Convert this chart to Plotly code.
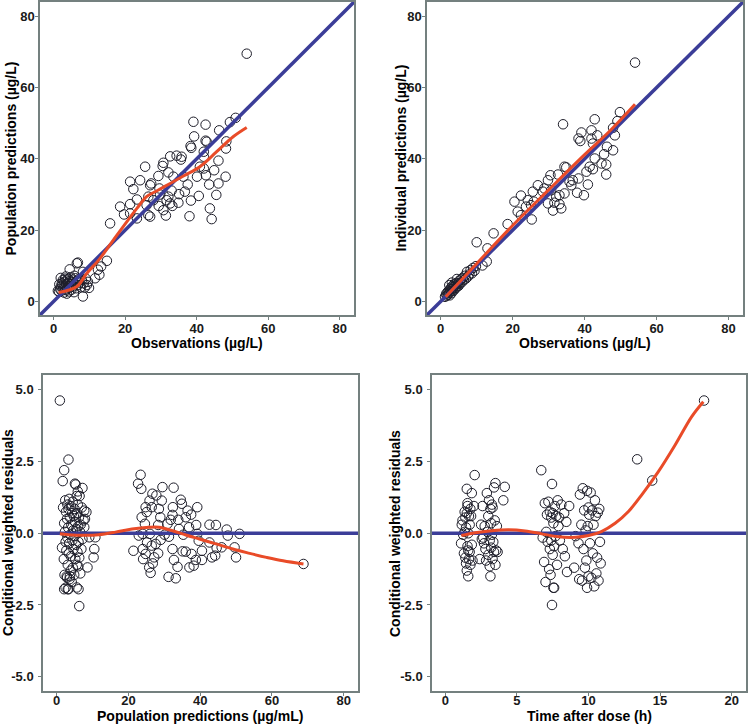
import plotly.graph_objects as go

# ---------------- data ----------------
# Panel A: Observations vs population predictions
obs_a = [1.5, 1.8, 2.0, 2.2, 2.3, 2.5, 2.6, 2.7, 2.9, 3.0, 3.1, 3.2, 3.3, 3.5, 3.6, 3.7, 3.8, 4.0, 4.1, 4.2,
         4.3, 4.5, 4.6, 4.7, 4.9, 5.0, 5.2, 5.4, 5.5, 5.7, 5.9, 6.1, 6.3, 6.5, 6.8, 7.0, 7.3, 7.6, 7.9, 8.2,
         8.4, 8.7, 9.0, 9.3, 9.6, 9.9, 2.0, 1.6, 3.4, 5.8, 1.2, 4.5, 6.5, 6.8, 8.2,
         15.8, 14.9, 13.3, 12.4, 12.8, 11.6,
         54.0, 50.9, 49.3, 39.1, 42.5, 39.3, 46.3, 42.5, 42.8, 38.3, 38.5, 48.3, 48.2, 42.0, 42.0, 46.1,
         40.9, 42.0, 44.9, 40.1, 42.6, 48.1, 43.5, 46.1, 45.5, 40.6, 38.4, 43.7, 44.2, 38.0,
         32.6, 34.4, 35.8, 30.7, 30.5, 29.3, 32.1, 33.5, 35.6, 36.3, 37.5, 36.7, 35.1, 34.9, 33.0, 32.1,
         31.6, 32.6, 33.2, 30.7, 31.4, 29.6, 29.8, 29.4, 25.6, 21.4, 24.2, 27.3, 27.0, 22.3, 23.3, 21.4,
         18.6, 19.7, 21.4, 23.3, 26.0, 26.5, 27.0, 26.5, 27.9]
pred_a = [2.8, 3.5, 4.2, 3.0, 5.1, 4.5, 6.0, 3.8, 2.5, 5.5, 4.0, 6.4, 3.2, 4.8, 5.9, 2.2, 3.6, 5.2, 6.3, 4.4,
          2.8, 5.7, 3.9, 6.8, 4.9, 3.3, 5.5, 6.1, 4.2, 2.6, 5.0, 6.5, 3.7, 5.8, 4.6, 6.2, 5.3, 4.0, 6.0, 8.3,
          5.1, 3.9, 6.4, 4.6, 5.5, 3.8, 6.6, 4.8, 7.0, 7.2, 3.0, 9.0, 10.7, 10.9, 1.4,
          21.9, 11.4, 9.8, 8.9, 7.5, 6.5,
          69.5, 51.5, 50.3, 50.4, 49.6, 46.3, 48.0, 45.1, 44.8, 43.6, 43.1, 44.9, 42.9, 42.0, 40.6, 39.5,
          37.8, 37.3, 36.8, 35.0, 35.4, 35.0, 32.8, 33.1, 29.9, 29.6, 28.3, 26.1, 23.1, 23.9,
          40.7, 40.9, 40.6, 38.9, 38.0, 35.2, 36.2, 35.0, 39.8, 35.0, 32.8, 30.8, 30.1, 27.7, 31.1, 29.4,
          28.4, 27.5, 26.8, 25.6, 24.1, 31.7, 30.0, 26.8, 37.8, 33.6, 34.0, 33.1, 32.6, 31.5, 28.6, 27.3,
          26.6, 24.4, 24.7, 23.3, 27.0, 24.2, 23.8, 29.4, 28.4]
smooth_a_x = [1.4, 6.5, 9.3, 13.0, 16.7, 20.5, 23.3, 26.0, 28.8, 32.6, 36.3, 40.9, 45.6, 50.2, 54.0]
smooth_a_y = [2.5, 4.2, 7.9, 12.1, 17.2, 22.4, 26.1, 29.4, 31.0, 33.1, 35.2, 37.8, 42.0, 46.2, 48.8]

# Panel B: Observations vs individual predictions
obs_b = [1.2, 1.5, 1.7, 1.9, 2.0, 2.2, 2.3, 2.5, 2.6, 2.8, 2.9, 3.0, 3.2, 3.3, 3.5, 3.6, 3.8, 3.9, 4.1, 4.2,
         4.4, 4.6, 4.8, 5.0, 5.2, 5.4, 5.6, 5.9, 6.1, 6.4, 6.7, 7.0, 7.3, 7.6, 8.0, 8.3, 8.7, 9.0, 9.4, 2.4,
         3.1, 4.5, 9.8,
         54.0, 34.0, 49.8, 42.8, 41.9, 39.1, 38.3, 38.8, 41.9, 43.5, 42.3, 49.1, 47.9, 48.4, 46.2, 47.9,
         45.4, 44.7, 46.0, 46.0, 42.8, 41.4, 42.3, 40.5, 40.9, 39.8, 37.9, 38.3, 36.7, 34.4, 34.9, 32.6,
         30.5, 29.8, 27.0, 28.8, 30.7, 35.8, 36.3, 33.0, 34.4, 32.1, 31.6, 33.0, 31.2, 33.5, 29.8, 28.4,
         25.6, 22.3, 20.5, 24.2, 25.9, 25.1, 23.7, 21.4, 22.3, 25.3, 18.6, 14.7, 10.0, 13.0, 12.8, 11.6]
pred_b = [1.3, 2.1, 1.6, 2.6, 1.9, 3.0, 2.4, 1.7, 3.4, 2.8, 3.9, 2.3, 3.5, 4.4, 3.0, 4.0, 4.8, 3.4, 4.5, 3.8,
          5.2, 4.2, 5.0, 4.4, 5.8, 5.1, 6.2, 5.4, 6.6, 6.0, 7.2, 6.4, 8.3, 7.0, 7.6, 8.8, 7.9, 9.4, 8.6, 4.6,
          5.3, 6.3, 9.9,
          67.0, 49.7, 53.1, 51.1, 48.0, 47.4, 45.7, 45.0, 45.7, 46.6, 44.3, 50.6, 48.7, 46.6, 43.4, 42.4,
          41.3, 38.7, 38.4, 35.6, 40.1, 37.8, 37.1, 36.4, 32.8, 29.8, 30.5, 34.5, 34.0, 37.8, 37.6, 35.6,
          35.4, 34.0, 32.6, 31.7, 31.2, 33.6, 32.6, 29.8, 30.3, 29.4, 27.7, 27.3, 25.5, 26.1, 27.5, 30.8,
          30.8, 29.7, 28.0, 28.4, 28.0, 27.0, 26.6, 25.2, 24.2, 23.0, 21.7, 19.1, 16.6, 14.9, 11.2, 10.1]
smooth_b_x = [1.4, 10.0, 20.0, 30.0, 40.0, 47.0, 54.0]
smooth_b_y = [1.3, 10.6, 21.3, 31.3, 41.2, 47.8, 55.3]

# Panel C: population predictions vs CWRES
pred_c = [1.5, 1.8, 2.0, 2.1, 2.2, 2.3, 2.4, 2.5, 2.5, 2.6, 2.7, 2.8, 2.9, 3.0, 3.0, 3.1, 3.2, 3.3, 3.3, 3.4,
          3.5, 3.5, 3.6, 3.7, 3.8, 3.9, 4.0, 4.0, 4.1, 4.2, 4.3, 4.4, 4.5, 4.5, 4.6, 4.7, 4.8, 4.9, 5.0, 5.0,
          5.1, 5.2, 5.3, 5.3, 5.4, 5.5, 5.6, 5.7, 5.8, 5.9, 6.0, 6.0, 6.1, 6.2, 6.3, 6.4, 6.5, 6.6, 6.7, 6.9,
          7.0, 7.2, 7.5, 3.7, 2.9,
          0.9, 3.3, 2.1, 1.7, 5.1, 7.2, 5.9, 5.6, 8.3, 7.7, 7.9, 7.7, 9.1, 10.8, 10.5, 10.3, 8.6, 6.1, 5.6,
          6.3, 2.1, 3.1,
          23.4, 22.7, 23.6, 29.5, 32.6, 26.7, 27.8, 25.9, 29.3, 34.6, 34.9, 24.8, 26.5, 32.4, 39.2, 36.5,
          28.5, 25.1, 37.5, 32.3, 23.7, 28.9, 36.0, 31.8, 33.9, 24.6, 28.3, 38.9, 42.6, 44.4, 30.9, 36.9,
          47.4, 34.1, 22.9, 24.0, 26.0, 30.1, 31.3, 35.3, 39.2, 47.7, 51.0, 39.6, 42.6, 29.0, 27.6, 25.2,
          26.5, 21.4, 24.0, 24.8, 32.3, 35.1, 36.0, 40.5, 44.6, 46.0, 49.6, 44.2, 43.3, 50.0, 28.3, 27.2,
          24.1, 32.7, 37.6, 38.8, 40.5, 26.8, 25.8, 33.7, 37.0, 38.2, 26.2, 31.2, 33.2, 68.8]
cwres_c = [-0.5, 0.9, -0.9, 0.35, -1.45, 0.05, 1.15, -0.3, -1.9, 0.75, -0.6, -1.5, 0.5, -0.15, 1.0, -1.1, 0.2,
           -1.95, 0.85, -0.7, 1.2, -0.35, -1.6, 0.55, -0.05, -1.3, 0.95, -0.8, 0.3, -1.7, 0.7, -0.25, 1.1,
           -1.2, 0.1, -0.55, 0.6, -1.45, 0.85, -0.1, 0.4, -0.9, 1.7, 0.65, -0.4, 0.15, -1.1, 0.7, -0.65, 1.0,
           0.25, -1.15, -0.3, 0.55, -0.85, 1.3, 0.05, -1.4, 0.3, -0.55, 0.9, -0.2, 0.45, -1.5, -1.55,
           4.63, 2.57, 2.2, 1.82, 1.73, 1.58, 1.46, 1.3, 0.74, 0.79, 0.5, 0.21, -0.14, -0.14, -0.55, -0.84,
           -1.19, -1.95, -1.89, -2.54, -1.95, -1.95,
           2.04, 1.73, 1.55, 1.61, 1.59, 1.38, 1.32, 1.14, 1.14, 1.17, 1.03, 0.91, 0.91, 0.91, 0.91, 0.79,
           0.85, 0.74, 0.65, 0.64, 0.56, 0.56, 0.56, 0.47, 0.47, 0.33, 0.29, 0.29, 0.30, 0.29, 0.33, 0.21,
           0.13, 0.15, -0.08, -0.02, -0.02, -0.05, -0.12, -0.05, -0.02, -0.08, -0.02, -0.26, -0.32, -0.23,
           -0.37, -0.32, -0.43, -0.61, -0.55, -0.72, -0.55, -0.63, -0.64, -0.61, -0.51, -0.49, -0.49, -0.78,
           -0.84, -0.84, -0.70, -0.84, -0.90, -0.93, -0.72, -0.93, -0.93, -1.05, -1.19, -1.17, -1.19, -1.13,
           -1.38, -1.52, -1.57, -1.07]
smooth_c_x = [0.9, 3.3, 7.9, 11.7, 16.4, 21.0, 25.7, 28.5, 32.3, 36.0, 39.8, 44.4, 49.1, 53.8, 58.5, 63.1, 68.8]
smooth_c_y = [-0.02, -0.05, -0.07, -0.05, 0.04, 0.15, 0.21, 0.21, 0.09, -0.06, -0.2, -0.37, -0.55, -0.7,
              -0.84, -0.96, -1.07]

# Panel D: time after dose vs CWRES
time_d = [1.1, 1.15, 1.2, 1.25, 1.3, 1.35, 1.4, 1.4, 1.45, 1.45, 1.5, 1.5, 1.5, 1.55, 1.55, 1.6, 1.6, 1.65,
          1.65, 1.7, 1.7, 1.75, 1.8, 1.85, 1.85, 1.9, 2.0, 2.05, 1.55, 1.6, 1.35, 1.75,
          2.4, 2.5, 2.55, 2.6, 2.7, 2.75, 2.8, 2.85, 2.9, 2.95, 3.0, 3.0, 3.05, 3.1, 3.1, 3.15, 3.15, 3.2,
          3.2, 3.25, 3.3, 3.3, 3.35, 3.4, 3.4, 3.45, 3.5, 3.5, 3.55, 3.6, 3.65, 4.05, 4.15, 3.25, 2.65,
          6.7, 6.8, 6.9, 6.95, 7.0, 7.05, 7.1, 7.15, 7.2, 7.25, 7.3, 7.3, 7.35, 7.4, 7.4, 7.45, 7.45, 7.5,
          7.5, 7.55, 7.55, 7.6, 7.6, 7.65, 7.7, 7.75, 7.8, 7.85, 7.9, 8.0, 8.1, 8.2, 8.3, 8.35, 8.45, 8.5,
          8.65, 7.95,
          9.0, 9.1, 9.3, 9.4, 9.5, 9.55, 9.6, 9.65, 9.7, 9.75, 9.8, 9.85, 9.9, 9.9, 9.95, 10.0, 10.05,
          10.1, 10.15, 10.2, 10.25, 10.3, 10.35, 10.4, 10.45, 10.5, 10.55, 10.6, 10.65, 10.7, 10.75, 10.8,
          10.85, 9.35, 10.0,
          13.4, 14.45, 18.07]
cwres_d = [-0.35, 0.3, 0.45, -0.05, -0.7, 0.05, -0.85, 0.55, -1.05, 0.2, 1.55, -1.3, 0.7, 0.95, -0.45, -1.5,
           0.0, 0.6, -0.9, 0.3, -0.65, -1.1, 0.6, 1.4, -0.4, -0.95, 0.95, 2.03, 1.05, -0.6, 0.75, 0.85,
           -0.9, 0.3, -0.2, 0.95, -0.35, 0.25, -0.55, -0.95, 1.4, 0.05, -0.75, 0.6, 1.15, -0.25, -1.15, 0.85,
           -1.5, 0.35, -0.5, 1.0, -0.9, 0.9, -0.3, 1.6, -0.65, 0.45, -1.1, 1.75, -0.6, 0.25, -0.65, 1.15,
           1.62, -0.05, -0.15,
           2.2, -0.15, -1.0, 1.05, -1.7, 0.05, 0.65, -0.3, 1.1, -1.25, 0.75, -0.55, -1.45, 0.55, -0.25, 1.72,
           -2.5, 0.7, -0.75, -1.9, 0.35, -0.45, -1.9, 0.95, -0.1, 0.6, -1.1, 1.15, 0.25, -0.25, 1.0, -0.55,
           0.7, -0.8, 0.4, -1.35, 0.95, 0.55,
           -1.2, -0.1, -0.35, 1.35, 0.3, -1.65, 1.57, -0.55, 0.8, -1.2, 0.1, -0.95, 1.48, -1.9, 0.25, -1.5,
           0.65, -0.35, 1.42, -1.55, 0.8, -0.7, 0.3, -1.85, 1.15, 0.6, -1.4, -0.85, 0.72, -1.65, 0.85, -0.3,
           -1.05, -1.6, 0.9,
           2.58, 1.84, 4.63]
smooth_d_x = [1.12, 2.09, 3.26, 4.42, 5.58, 6.74, 7.9, 9.07, 10.0, 10.9, 11.86, 12.79, 13.72, 14.88, 16.05,
              17.21, 18.02]
smooth_d_y = [-0.08, 0.02, 0.09, 0.12, 0.08, -0.02, -0.12, -0.14, -0.08, 0.06, 0.35, 0.76, 1.34, 2.15, 3.08,
              4.07, 4.59]

conc_ticks = [0, 20, 40, 60, 80]
cwres_ticks = [-5.0, -2.5, 0.0, 2.5, 5.0]
cwres_ticktext = ["-5.0", "-2.5", "0.0", "2.5", "5.0"]
time_ticks = [0, 5, 10, 15, 20]

x_titles = ["Observations (µg/L)", "Observations (µg/L)", "Population predictions (µg/mL)", "Time after dose (h)"]
y_titles = ["Population predictions (µg/L)", "Individual predictions (µg/L)",
            "Conditional weighted residuals", "Conditional weighted residuals"]

# ---------------- styling ----------------
W, H = 750, 725
FONT = "Liberation Sans, Arial, sans-serif"
BLUE = "#3b3d98"
RED = "#e94b28"
FRAME = "#74807f"
MARKER = dict(symbol="circle-open", size=9.5, color="#1e1e2a", line=dict(width=1))

conc_range = [-3.8, 84]
cwres_range = [-5.5, 5.52]
time_range = [-0.93, 21.0]

# panel boxes in pixels: (left, right, top, bottom)
boxes = [(40, 354, 2, 315), (427, 743, 2, 315), (43, 358, 375, 691), (432, 746, 375, 691)]
xlabel_standoff = [-2, -2, -6, -6]

fig = go.Figure()

panels = [
    (obs_a, pred_a, smooth_a_x, smooth_a_y, "identity"),
    (obs_b, pred_b, smooth_b_x, smooth_b_y, "identity"),
    (pred_c, cwres_c, smooth_c_x, smooth_c_y, "zero"),
    (time_d, cwres_d, smooth_d_x, smooth_d_y, "zero"),
]
xranges = [conc_range, conc_range, conc_range, time_range]
yranges = [conc_range, conc_range, cwres_range, cwres_range]

for i, (xs, ys, sx, sy, ref) in enumerate(panels):
    n = "" if i == 0 else str(i + 1)
    xa, ya = "x" + n, "y" + n
    xr = xranges[i]
    rx = [xr[0], xr[1]]
    ry = [xr[0], xr[1]] if ref == "identity" else [0, 0]
    fig.add_trace(go.Scatter(x=xs, y=ys, mode="markers", marker=MARKER, xaxis=xa, yaxis=ya,
                             showlegend=False, cliponaxis=True))
    fig.add_trace(go.Scatter(x=rx, y=ry, mode="lines", line=dict(color=BLUE, width=3.5),
                             xaxis=xa, yaxis=ya, showlegend=False))
    fig.add_trace(go.Scatter(x=sx, y=sy, mode="lines", line=dict(color=RED, width=3, shape="spline"),
                             xaxis=xa, yaxis=ya, showlegend=False))

tickfont = dict(family=FONT, size=13, color="#1a1a1a", weight="bold")
layout = dict(width=W, height=H, margin=dict(l=0, r=0, t=0, b=0), paper_bgcolor="white",
              plot_bgcolor="white", template="none", showlegend=False)

xtickvals = [conc_ticks, conc_ticks, conc_ticks, time_ticks]
ytickvals = [conc_ticks, conc_ticks, cwres_ticks, cwres_ticks]
yticktext = [None, None, cwres_ticktext, cwres_ticktext]

annotations = []
for i, (l, r, t, b) in enumerate(boxes):
    n = "" if i == 0 else str(i + 1)
    common = dict(showline=True, linecolor=FRAME, linewidth=1.5, mirror=True, showgrid=False,
                  zeroline=False, ticks="outside", ticklen=3, tickcolor=FRAME, tickwidth=1,
                  tickfont=tickfont, automargin=False)
    layout["xaxis" + n] = dict(domain=[l / W, r / W], range=xranges[i], tickvals=xtickvals[i],
                               anchor="y" + n, ticklabelstandoff=xlabel_standoff[i], **common)
    yax = dict(domain=[1 - b / H, 1 - t / H], range=yranges[i], tickvals=ytickvals[i],
               anchor="x" + n, ticklabelstandoff=-2 if i < 2 else 2, **common)
    if yticktext[i] is not None:
        yax["ticktext"] = yticktext[i]
    layout["yaxis" + n] = yax
    cx = (l + r) / 2
    cy = (t + b) / 2
    if i < 2:
        ty, yanc = 1 - (b + 28) / H, "middle"
    else:
        ty, yanc = 0.0, "bottom"
    annotations.append(dict(text=x_titles[i], x=cx / W, y=ty, xref="paper", yref="paper",
                            showarrow=False, xanchor="center", yanchor=yanc, borderpad=0,
                            font=dict(family=FONT, size=14, color="black", weight="bold")))
    ytx = [10, 400, 8, 395][i]
    annotations.append(dict(text=y_titles[i], x=ytx / W, y=1 - cy / H, xref="paper", yref="paper",
                            showarrow=False, xanchor="center", yanchor="middle", textangle=-90,
                            font=dict(family=FONT, size=14, color="black", weight="bold")))
layout["annotations"] = annotations

fig.update_layout(**layout)
fig.write_html("out.html", config={"displayModeBar": False},
               post_script="document.body.style.margin='0';")
